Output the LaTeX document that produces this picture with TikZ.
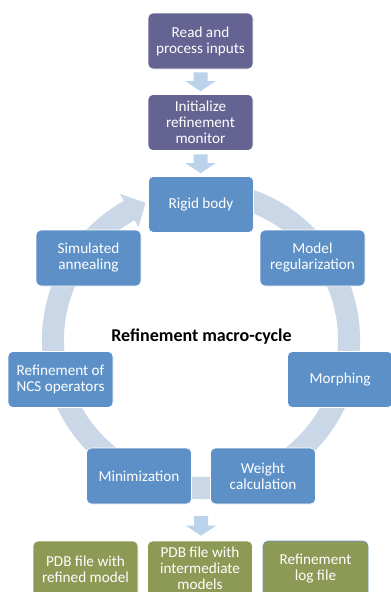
\documentclass[tikz,border=0pt]{standalone}
\usepackage{fontspec}
\setmainfont{Carlito}
\usetikzlibrary{calc}
\definecolor{purp}{RGB}{101,99,145}
\definecolor{bluebox}{RGB}{92,144,198}
\definecolor{greenbox}{RGB}{141,154,86}
\definecolor{ringc}{RGB}{202,215,231}
\definecolor{arrc}{RGB}{187,211,234}
\definecolor{edgeblue}{RGB}{110,150,200}
\newcommand{\blockarrow}[2]{\fill[arrc] ($(#1)+(-7,0)$) -- ($(#1)+(7,0)$) -- ($(#2)+(7,10)$) -- ($(#2)+(15,10)$) -- (#2) -- ($(#2)+(-15,10)$) -- ($(#2)+(-7,10)$) -- cycle;}
\begin{document}
\begin{tikzpicture}[x=1pt,y=1pt,
  box/.style={rounded corners=5pt, minimum width=105pt, minimum height=56pt, inner sep=0pt,
    align=center, text=white, font=\fontsize{15.2}{16}\selectfont, draw=white, line width=0.6pt},
  purpbox/.style={box, fill=purp},
  bluebx/.style={box, fill=bluebox},
  greenbx/.style={box, fill=greenbox}]
\useasboundingbox (0,0) rectangle (391,-592);
\fill[white] (0,0) rectangle (391,-592);
\begin{scope}
\clip (0,0) rectangle (391,-592);
% cycle ring
\coordinate (C) at (201,-340);
\fill[ringc] ($(C)+(80:159)$) arc[start angle=80, end angle=-241, radius=159]
  -- ($(C)+(-241:167)$) -- ($(C)+(-248:148)$) -- ($(C)+(-241:129)$) -- ($(C)+(-241:137)$)
  arc[start angle=-241, end angle=80, radius=137] -- cycle;
% nodes
\node[purpbox] (read) at (200.5,-41) {Read and\\process inputs};
\node[purpbox] (init) at (200.5,-122.5) {Initialize\\refinement\\monitor};
\node[bluebx] (rigid) at (201,-204.5) {Rigid body};
\node[bluebx] (sa) at (88.5,-258) {Simulated\\annealing};
\node[bluebx] (mr) at (312.5,-258) {Model\\regularization};
\node[bluebx] (ncs) at (60.5,-379.5) {Refinement of\\NCS operators};
\node[bluebx] (morph) at (340,-379.5) {Morphing};
\node[bluebx] (mini) at (139,-476) {Minimization};
\node[bluebx] (weight) at (263,-476) {Weight\\calculation};
\node[font=\fontsize{18}{21}\selectfont\bfseries] (title) at (201.5,-337) {Refinement macro-cycle};
\node[greenbx] (out1) at (85.5,-569) {PDB file with\\refined model};
\node[greenbx] (out2) at (200,-569) {};
\node[align=center, text=white, font=\fontsize{15.2}{16}\selectfont] (out2t) at (200,-568.5) {PDB file with\\intermediate\\models};
\node[greenbx, draw=edgeblue] (out3) at (315.5,-569) {Refinement\\log file};
% block arrows
\coordinate (a1s) at ($(read.south)+(0,-3)$);
\coordinate (a1e) at ($(init.north)+(0,3)$);
\coordinate (a2s) at ($(init.south)+(0,-3.5)$);
\coordinate (a2e) at ($(rigid.north)+(-0.5,3)$);
\coordinate (a3s) at (201,-516);
\coordinate (a3e) at ($(out2.north)+(1,5)$);
\blockarrow{a1s}{a1e}
\blockarrow{a2s}{a2e}
\blockarrow{a3s}{a3e}
\end{scope}
\end{tikzpicture}
\end{document}
